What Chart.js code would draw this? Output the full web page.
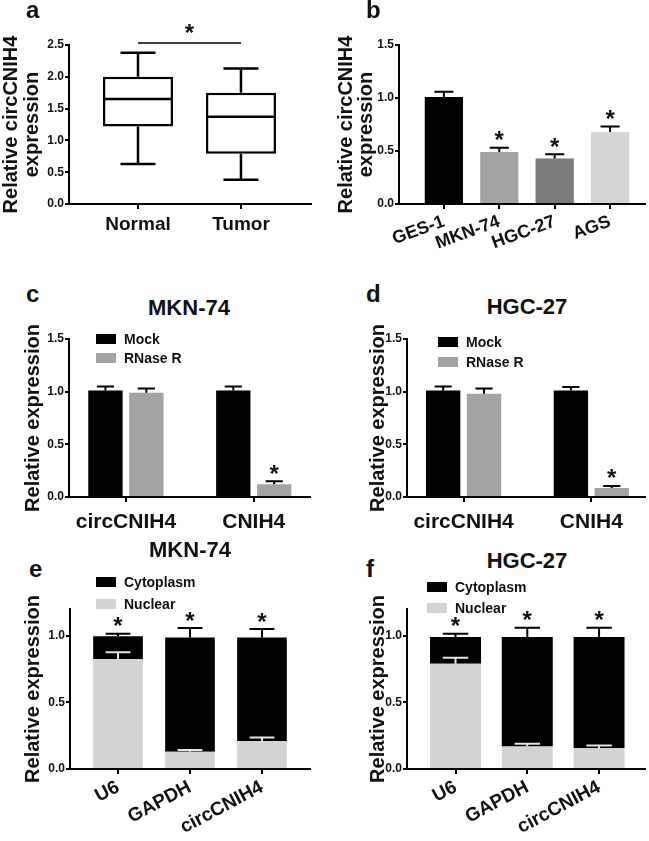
<!DOCTYPE html>
<html lang="en">
<head>
<meta charset="UTF-8">
<title>circCNIH4 expression</title>
<script src="https://cdn.jsdelivr.net/npm/chart.js"></script>
<style>
  body { margin: 0; background: #fff; }
  #fig { position: relative; width: 649px; height: 841px; overflow: hidden;
         font-family: "Liberation Sans", Arial, sans-serif; font-weight: bold; color: #111; }
  #fig canvas { position: absolute; }
  .txt { position: absolute; line-height: 1; white-space: nowrap; }
  .letter { font-size: 24px; }
  .ttl { font-size: 22px; transform: translateX(-50%); }
  .leg { font-size: 14px; }
  .box { position: absolute; width: 20px; height: 10px; }
</style>
</head>
<body>
<div id="fig">
  <canvas id="chartA" width="320" height="250" style="left:0;top:0"></canvas>
  <canvas id="chartB" width="319" height="250" style="left:330px;top:0"></canvas>
  <canvas id="chartC" width="320" height="220" style="left:0;top:320px"></canvas>
  <canvas id="chartD" width="319" height="220" style="left:330px;top:320px"></canvas>
  <canvas id="chartE" width="320" height="251" style="left:0;top:590px"></canvas>
  <canvas id="chartF" width="319" height="251" style="left:330px;top:590px"></canvas>

  <div class="txt letter" style="left:26px;top:-2px">a</div>
  <div class="txt letter" style="left:366px;top:-2px">b</div>
  <div class="txt letter" style="left:26px;top:282px">c</div>
  <div class="txt letter" style="left:366px;top:282px">d</div>
  <div class="txt letter" style="left:29px;top:557px">e</div>
  <div class="txt letter" style="left:366px;top:557px">f</div>

  <div class="txt ttl" style="left:189px;top:297px">MKN-74</div>
  <div class="txt ttl" style="left:527px;top:296px">HGC-27</div>
  <div class="txt ttl" style="left:190px;top:539px">MKN-74</div>
  <div class="txt ttl" style="left:527px;top:550px">HGC-27</div>
  <div id="legends"></div>
</div>

<script>
// ---- panel a: box plot of circCNIH4 in tissues
const tissueGroups = ['Normal', 'Tumor'];
const tissueMin = [0.63, 0.38];
const tissueQ1 = [1.22, 0.79];
const tissueMedian = [1.65, 1.37];
const tissueQ3 = [2.00, 1.75];
const tissueMax = [2.38, 2.13];
const tissueTicks = [0, 0.5, 1.0, 1.5, 2.0, 2.5];

// ---- panel b: cell lines
const cellLines = ['GES-1', 'MKN-74', 'HGC-27', 'AGS'];
const cellExpr = [1.01, 0.49, 0.43, 0.68];
const cellErr = [0.05, 0.04, 0.04, 0.05];
const cellStars = [false, true, true, true];
const cellColors = ['#000000', '#a3a3a3', '#7b7b7b', '#d6d6d6'];
const cellTicks = [0, 0.5, 1.0, 1.5];

// ---- panels c, d: RNase R treatment
const rnaTargets = ['circCNIH4', 'CNIH4'];
const treatments = ['Mock', 'RNase R'];
const treatColors = ['#000000', '#a3a3a3'];
const mknMock = [1.01, 1.01];
const mknMockErr = [0.04, 0.04];
const mknRnase = [0.99, 0.12];
const mknRnaseErr = [0.04, 0.03];
const hgcMock = [1.01, 1.01];
const hgcMockErr = [0.04, 0.035];
const hgcRnase = [0.98, 0.085];
const hgcRnaseErr = [0.05, 0.02];
const rnaseStars = [false, true];
const rnaseTicks = [0, 0.5, 1.0, 1.5];

// ---- panels e, f: nuclear / cytoplasm fractions
const fractionGenes = ['U6', 'GAPDH', 'circCNIH4'];
const fractions = ['Cytoplasm', 'Nuclear'];
const fractionColors = ['#000000', '#d3d3d3'];
const mknNuclear = [0.825, 0.13, 0.21];
const mknNuclearErr = [0.05, 0.013, 0.027];
const mknCyto = [0.17, 0.857, 0.777];
const mknCytoErr = [0.02, 0.07, 0.063];
const hgcNuclear = [0.79, 0.168, 0.155];
const hgcNuclearErr = [0.045, 0.022, 0.022];
const hgcCyto = [0.20, 0.822, 0.835];
const hgcCytoErr = [0.025, 0.07, 0.07];
const fractionStars = [true, true, true];
const fractionTicks = [0, 0.5, 1.0];

Chart.defaults.font.family = '"Liberation Sans", Arial, sans-serif';
Chart.defaults.font.weight = 'bold';
Chart.defaults.color = '#111';
Chart.defaults.animation = false;

const STAR_FONT = 'bold 24px "Liberation Sans", Arial, sans-serif';
const toPoints = arr => arr.map((v, i) => ({ x: i, y: v }));

function xAxis(labels, min, max, fontSize, rotation, height, stacked, pad) {
  return {
    type: 'linear', min: min, max: max, offset: false, stacked: stacked,
    afterBuildTicks: s => { s.ticks = labels.map((l, i) => ({ value: i })); },
    afterFit: s => { s.height = height; },
    ticks: { callback: v => labels[v], font: { size: fontSize }, color: '#111',
             padding: pad, autoSkip: false, minRotation: rotation, maxRotation: rotation },
    grid: { drawOnChartArea: false, offset: false, color: '#000', lineWidth: 2, tickLength: 5 },
    border: { color: '#000', width: 2 }
  };
}

function yAxis(ticks, max, title, width, titlePad, lineHeight, stacked) {
  return {
    min: 0, max: max, stacked: stacked,
    afterBuildTicks: s => { s.ticks = ticks.map(v => ({ value: v })); },
    afterFit: s => { s.width = width; },
    ticks: { callback: v => v.toFixed(1), font: { size: 12 }, color: '#111', padding: 1 },
    grid: { drawOnChartArea: false, color: '#000', lineWidth: 2, tickLength: 4 },
    border: { color: '#000', width: 2 },
    title: { display: true, text: title, color: '#111',
             font: { size: 20, lineHeight: lineHeight }, padding: { top: titlePad, bottom: 0 } }
  };
}

// error bars above bars and significance stars
const errorBars = {
  id: 'errorBars',
  afterDatasetsDraw(chart) {
    const ctx = chart.ctx;
    const ys = chart.scales.y;
    ctx.save();
    chart.data.datasets.forEach((ds, di) => {
      const meta = chart.getDatasetMeta(di);
      meta.data.forEach((bar, i) => {
        let errTop = bar.y;
        if (ds.errors) {
          errTop = bar.y - (ys.getPixelForValue(0) - ys.getPixelForValue(ds.errors[i]));
          const cap = bar.width * 0.25;
          ctx.strokeStyle = ds.errorColor || '#000';
          ctx.lineWidth = 2;
          ctx.beginPath();
          ctx.moveTo(bar.x, bar.y);
          ctx.lineTo(bar.x, errTop);
          ctx.moveTo(bar.x - cap, errTop);
          ctx.lineTo(bar.x + cap, errTop);
          ctx.stroke();
        }
        if (ds.stars && ds.stars[i]) {
          ctx.fillStyle = '#111';
          ctx.font = STAR_FONT;
          ctx.textAlign = 'center';
          ctx.textBaseline = 'alphabetic';
          ctx.fillText('*', bar.x, errTop + 0.5);
        }
      });
    });
    ctx.restore();
  }
};

// whiskers, medians and the significance bracket of panel a
const boxParts = {
  id: 'boxParts',
  afterDatasetsDraw(chart) {
    const ctx = chart.ctx;
    const xs = chart.scales.x, ys = chart.scales.y;
    const meta = chart.getDatasetMeta(0);
    ctx.save();
    ctx.strokeStyle = '#000';
    ctx.lineWidth = 2.5;
    meta.data.forEach((box, i) => {
      const half = box.width / 2, cap = box.width / 4;
      const yMed = ys.getPixelForValue(tissueMedian[i]);
      const yQ1 = ys.getPixelForValue(tissueQ1[i]);
      const yQ3 = ys.getPixelForValue(tissueQ3[i]);
      const yMin = ys.getPixelForValue(tissueMin[i]);
      const yMax = ys.getPixelForValue(tissueMax[i]);
      ctx.beginPath();
      ctx.moveTo(box.x - half, yMed); ctx.lineTo(box.x + half, yMed);
      ctx.moveTo(box.x, yQ3); ctx.lineTo(box.x, yMax);
      ctx.moveTo(box.x - cap, yMax); ctx.lineTo(box.x + cap, yMax);
      ctx.moveTo(box.x, yQ1); ctx.lineTo(box.x, yMin);
      ctx.moveTo(box.x - cap, yMin); ctx.lineTo(box.x + cap, yMin);
      ctx.stroke();
    });
    const x0 = xs.getPixelForValue(0), x1 = xs.getPixelForValue(1);
    const yl = chart.chartArea.top - 2;
    ctx.lineWidth = 1.5;
    ctx.beginPath();
    ctx.moveTo(x0, yl); ctx.lineTo(x1, yl);
    ctx.stroke();
    ctx.fillStyle = '#111';
    ctx.font = STAR_FONT;
    ctx.textAlign = 'center';
    ctx.fillText('*', (x0 + x1) / 2, yl - 2.5);
    ctx.restore();
  }
};

function baseOptions(padding, scales) {
  return {
    responsive: false, events: [],
    layout: { padding: padding },
    plugins: { legend: { display: false }, tooltip: { enabled: false } },
    scales: scales
  };
}

// a
new Chart(document.getElementById('chartA'), {
  type: 'bar',
  data: { datasets: [{
    data: tissueQ1.map((q, i) => ({ x: i, y: [q, tissueQ3[i]] })),
    backgroundColor: '#fff', borderColor: '#000', borderWidth: 2.5, borderSkipped: false,
    categoryPercentage: 0.68, barPercentage: 1
  }] },
  options: baseOptions({ left: 0, top: 45, right: 9, bottom: 0 }, {
    x: xAxis(tissueGroups, -0.67, 1.68, 19, 0, 46, false, 4),
    y: yAxis(tissueTicks, 2.5, ['Relative circCNIH4', 'expression'], 69, 1, 1.05, false)
  }),
  plugins: [boxParts]
});

// b
new Chart(document.getElementById('chartB'), {
  type: 'bar',
  data: { datasets: [{
    data: toPoints(cellExpr), errors: cellErr, stars: cellStars,
    backgroundColor: cellColors, categoryPercentage: 0.69, barPercentage: 1
  }] },
  options: baseOptions({ left: 0, top: 45, right: 4, bottom: 0 }, {
    x: xAxis(cellLines, -0.81, 3.63, 18, 20, 46, false, 2),
    y: yAxis(cellTicks, 1.5, ['Relative circCNIH4', 'expression'], 69, 6, 1.03, false)
  }),
  plugins: [errorBars]
});

function rnaseChart(id, mock, mockErr, rnase, rnaseErr, yWidth, titlePad, xMin, xMax, padRight) {
  new Chart(document.getElementById(id), {
    type: 'bar',
    data: { datasets: [
      { label: treatments[0], data: toPoints(mock), errors: mockErr, backgroundColor: treatColors[0],
        categoryPercentage: 0.64, barPercentage: 0.84 },
      { label: treatments[1], data: toPoints(rnase), errors: rnaseErr, stars: rnaseStars,
        backgroundColor: treatColors[1], categoryPercentage: 0.64, barPercentage: 0.84 }
    ] },
    options: baseOptions({ left: 0, top: 19, right: padRight, bottom: 0 }, {
      x: xAxis(rnaTargets, xMin, xMax, 21, 0, 43, false, 8),
      y: yAxis(rnaseTicks, 1.5, 'Relative expression', yWidth, titlePad, 1.15, false)
    }),
    plugins: [errorBars]
  });
}
rnaseChart('chartC', mknMock, mknMockErr, mknRnase, mknRnaseErr, 69, 22, -0.445, 1.44, 10);
rnaseChart('chartD', hgcMock, hgcMockErr, hgcRnase, hgcRnaseErr, 77, 37, -0.443, 1.42, 4);

function fractionChart(id, nuclear, nuclearErr, cyto, cytoErr, yWidth, titlePad, xMin, xMax, padRight, pct) {
  new Chart(document.getElementById(id), {
    type: 'bar',
    data: { datasets: [
      { label: fractions[1], data: toPoints(nuclear), errors: nuclearErr, errorColor: '#e4e4e4',
        backgroundColor: fractionColors[1], categoryPercentage: pct, barPercentage: 1 },
      { label: fractions[0], data: toPoints(cyto), errors: cytoErr, stars: fractionStars,
        backgroundColor: fractionColors[0], categoryPercentage: pct, barPercentage: 1 }
    ] },
    options: baseOptions({ left: 0, top: 19, right: padRight, bottom: 0 }, {
      x: xAxis(fractionGenes, xMin, xMax, 19, 28, 72, true, 2),
      y: yAxis(fractionTicks, 1.2, 'Relative expression', yWidth, titlePad, 1.15, true)
    }),
    plugins: [errorBars]
  });
}
fractionChart('chartE', mknNuclear, mknNuclearErr, mknCyto, mknCytoErr, 70, 22, -0.667, 2.667, 10, 0.69);
fractionChart('chartF', hgcNuclear, hgcNuclearErr, hgcCyto, hgcCytoErr, 77, 37, -0.676, 2.64, 4, 0.71);

// legends (boxes + labels)
const legendSpots = [
  { names: treatments, colors: treatColors, boxLeft: 96, textLeft: 124, tops: [334, 353] },
  { names: treatments, colors: treatColors, boxLeft: 438, textLeft: 466, tops: [337, 357] },
  { names: fractions, colors: fractionColors, boxLeft: 96, textLeft: 124, tops: [577, 599] },
  { names: fractions, colors: fractionColors, boxLeft: 427, textLeft: 455, tops: [582, 603] }
];
let html = '';
legendSpots.forEach(lg => {
  lg.names.forEach((name, i) => {
    html += '<div class="box" style="left:' + lg.boxLeft + 'px;top:' + lg.tops[i] + 'px;background:' + lg.colors[i] + '"></div>';
    html += '<div class="txt leg" style="left:' + lg.textLeft + 'px;top:' + (lg.tops[i] - 2) + 'px">' + name + '</div>';
  });
});
document.getElementById('legends').innerHTML = html;
</script>
</body>
</html>
